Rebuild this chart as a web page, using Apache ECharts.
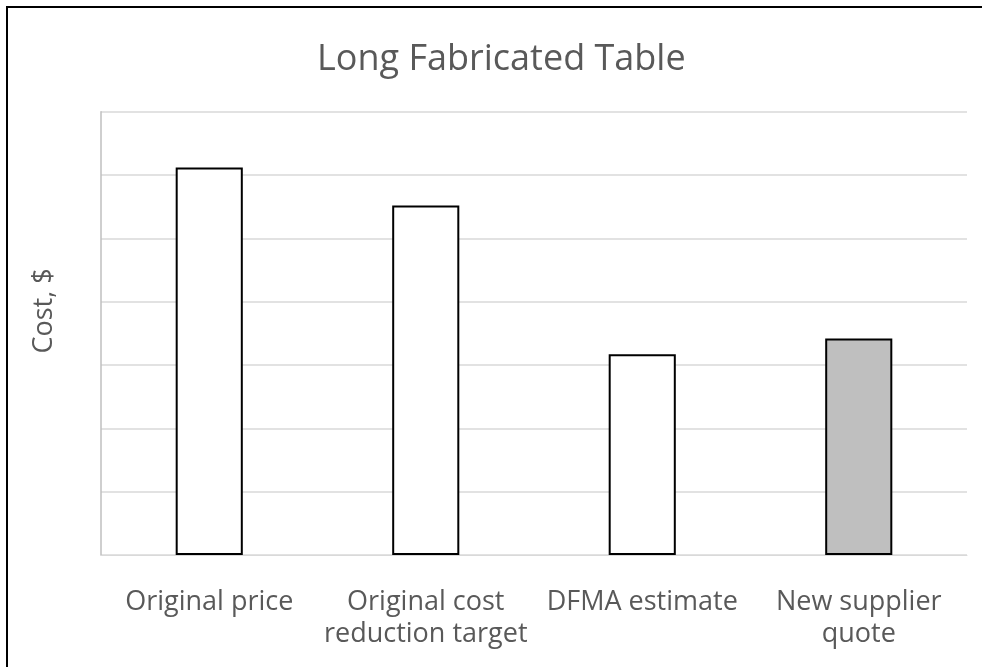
<!DOCTYPE html>
<html>
<head>
<meta charset="utf-8">
<style>
  html, body { margin: 0; padding: 0; background: #ffffff; }
  #chart { width: 982px; height: 667px; }
</style>
<script src="https://cdn.jsdelivr.net/npm/echarts@6/dist/echarts.min.js"></script>
</head>
<body>
<div id="chart"></div>
<script>
// Cost comparison for the long fabricated table
const categories = ['Original price', 'Original cost\nreduction target', 'DFMA estimate', 'New supplier\nquote'];
const costValues = [6.12, 5.52, 3.17, 3.42];
const barFills = ['#ffffff', '#ffffff', '#ffffff', '#bfbfbf'];
const yTicks = { min: 0, max: 7, step: 1 };

const FONT = '"Open Sans", "Noto Sans", sans-serif';
const TEXT = '#595959';

const chart = echarts.init(document.getElementById('chart'), null, { renderer: 'canvas' });

chart.setOption({
  backgroundColor: '#ffffff',
  animation: false,
  title: {
    text: 'Long Fabricated Table',
    left: 312,
    top: 37,
    textStyle: { fontFamily: FONT, fontSize: 36, fontWeight: 'normal', color: TEXT }
  },
  grid: { left: 101, right: 15, top: 111.7, bottom: 112, containLabel: false },
  xAxis: {
    type: 'category',
    data: categories,
    axisLine: { show: true, lineStyle: { color: '#d9d9d9', width: 1 } },
    axisTick: { show: false },
    axisLabel: {
      interval: 0,
      margin: 31,
      fontFamily: FONT,
      fontSize: 27,
      lineHeight: 32,
      color: TEXT
    }
  },
  yAxis: {
    type: 'value',
    min: yTicks.min,
    max: yTicks.max,
    interval: yTicks.step,
    axisLabel: { show: false },
    axisTick: { show: false },
    axisLine: { show: true, lineStyle: { color: '#bfbfbf', width: 1.5 } },
    splitLine: { show: true, lineStyle: { color: '#d9d9d9', width: 1.5 } }
  },
  series: [{
    type: 'bar',
    barCategoryGap: '69%',
    data: costValues.map((v, i) => ({
      value: v,
      itemStyle: { color: barFills[i], borderColor: '#000000', borderWidth: 2 }
    }))
  }],
  graphic: [
    {
      type: 'text',
      x: 44,
      y: 311,
      rotation: Math.PI / 2,
      style: {
        text: 'Cost, $',
        fontFamily: FONT,
        fontSize: 27,
        fill: TEXT,
        align: 'center',
        verticalAlign: 'middle'
      }
    },
    {
      type: 'line',
      shape: { x1: 7, y1: 7, x2: 7, y2: 667 },
      style: { stroke: '#000000', lineWidth: 2 }
    },
    {
      type: 'line',
      shape: { x1: 6, y1: 7, x2: 982, y2: 7 },
      style: { stroke: '#000000', lineWidth: 2 }
    }
  ]
});
</script>
</body>
</html>
